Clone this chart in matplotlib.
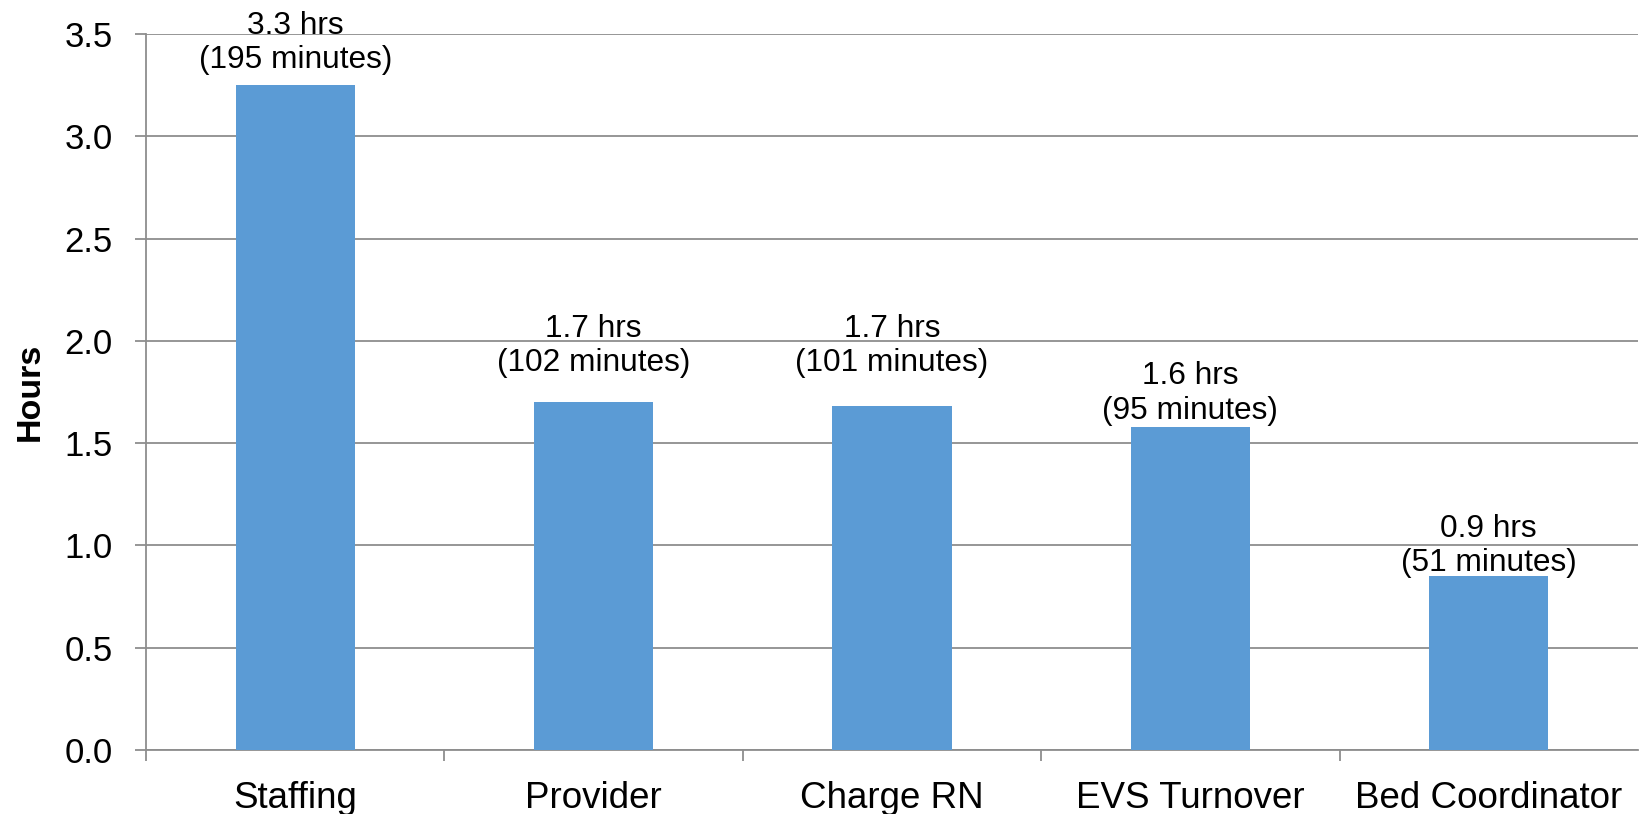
import matplotlib
matplotlib.use("Agg")
import matplotlib.pyplot as plt
import numpy as np

categories = ["Staffing", "Provider", "Charge RN", "EVS Turnover", "Bed Coordinator"]
hours = [3.25, 1.70, 1.68, 1.58, 0.85]
hours_text = ["3.3", "1.7", "1.7", "1.6", "0.9"]
minutes = [195, 102, 101, 95, 51]
y_ticks = [0.0, 0.5, 1.0, 1.5, 2.0, 2.5, 3.0, 3.5]

# label gaps above bar tops (pixels), as placed in the original
label_gap_px = [10, 24, 28, 1, -2]

plt.rcParams['font.family'] = ['Liberation Sans', 'DejaVu Sans']

W, H = 1639, 814
dpi = 100
fig = plt.figure(figsize=(W / dpi, H / dpi), dpi=dpi)
ax = fig.add_axes([146 / W, 1 - 750 / H, (1638 - 146) / W, (750 - 34) / H])

grid_color = "#8E8E8E"
bar_color = "#5B9BD5"

x = np.arange(len(categories))
ax.bar(x, hours, width=0.4, color=bar_color, zorder=3)

ax.set_xlim(-0.5, len(categories) - 0.5)
ax.set_ylim(0, 3.5)
ax.set_yticks(y_ticks)
ax.set_yticklabels([f"{v:.1f}" for v in y_ticks])
ax.yaxis.grid(True, color=grid_color, linewidth=1.3, zorder=0)
ax.set_axisbelow(True)

for side in ["top", "right"]:
    ax.spines[side].set_visible(False)
for side in ["left", "bottom"]:
    ax.spines[side].set_color(grid_color)
    ax.spines[side].set_linewidth(1.3)

ax.tick_params(axis="y", length=8, width=1.3, color=grid_color, pad=16,
               labelsize=25, labelcolor="black")

# x: boundary ticks (major, unlabeled) and centered labels (minor)
ax.set_xticks(np.arange(-0.5, len(categories) - 0.5, 1.0))
ax.set_xticklabels([])
ax.set_xticks(x, minor=True)
ax.set_xticklabels(categories, minor=True)
ax.tick_params(axis="x", which="major", length=8, width=1.3, color=grid_color)
ax.tick_params(axis="x", which="minor", length=0, pad=22, labelsize=26.5,
               labelcolor="black")

ax.set_ylabel("Hours", fontsize=24.5, fontweight="bold")
ax.yaxis.set_label_coords(-0.067, 0.5)

for xi, h, ht, m, gap in zip(x, hours, hours_text, minutes, label_gap_px):
    ax.annotate(f"{ht} hrs\n({m} minutes)", xy=(xi, h),
                xytext=(0, gap * 72 / dpi), textcoords="offset points",
                ha="center", va="bottom", fontsize=22.8, linespacing=1.2,
                annotation_clip=False)

fig.savefig("out.png", dpi=dpi)
